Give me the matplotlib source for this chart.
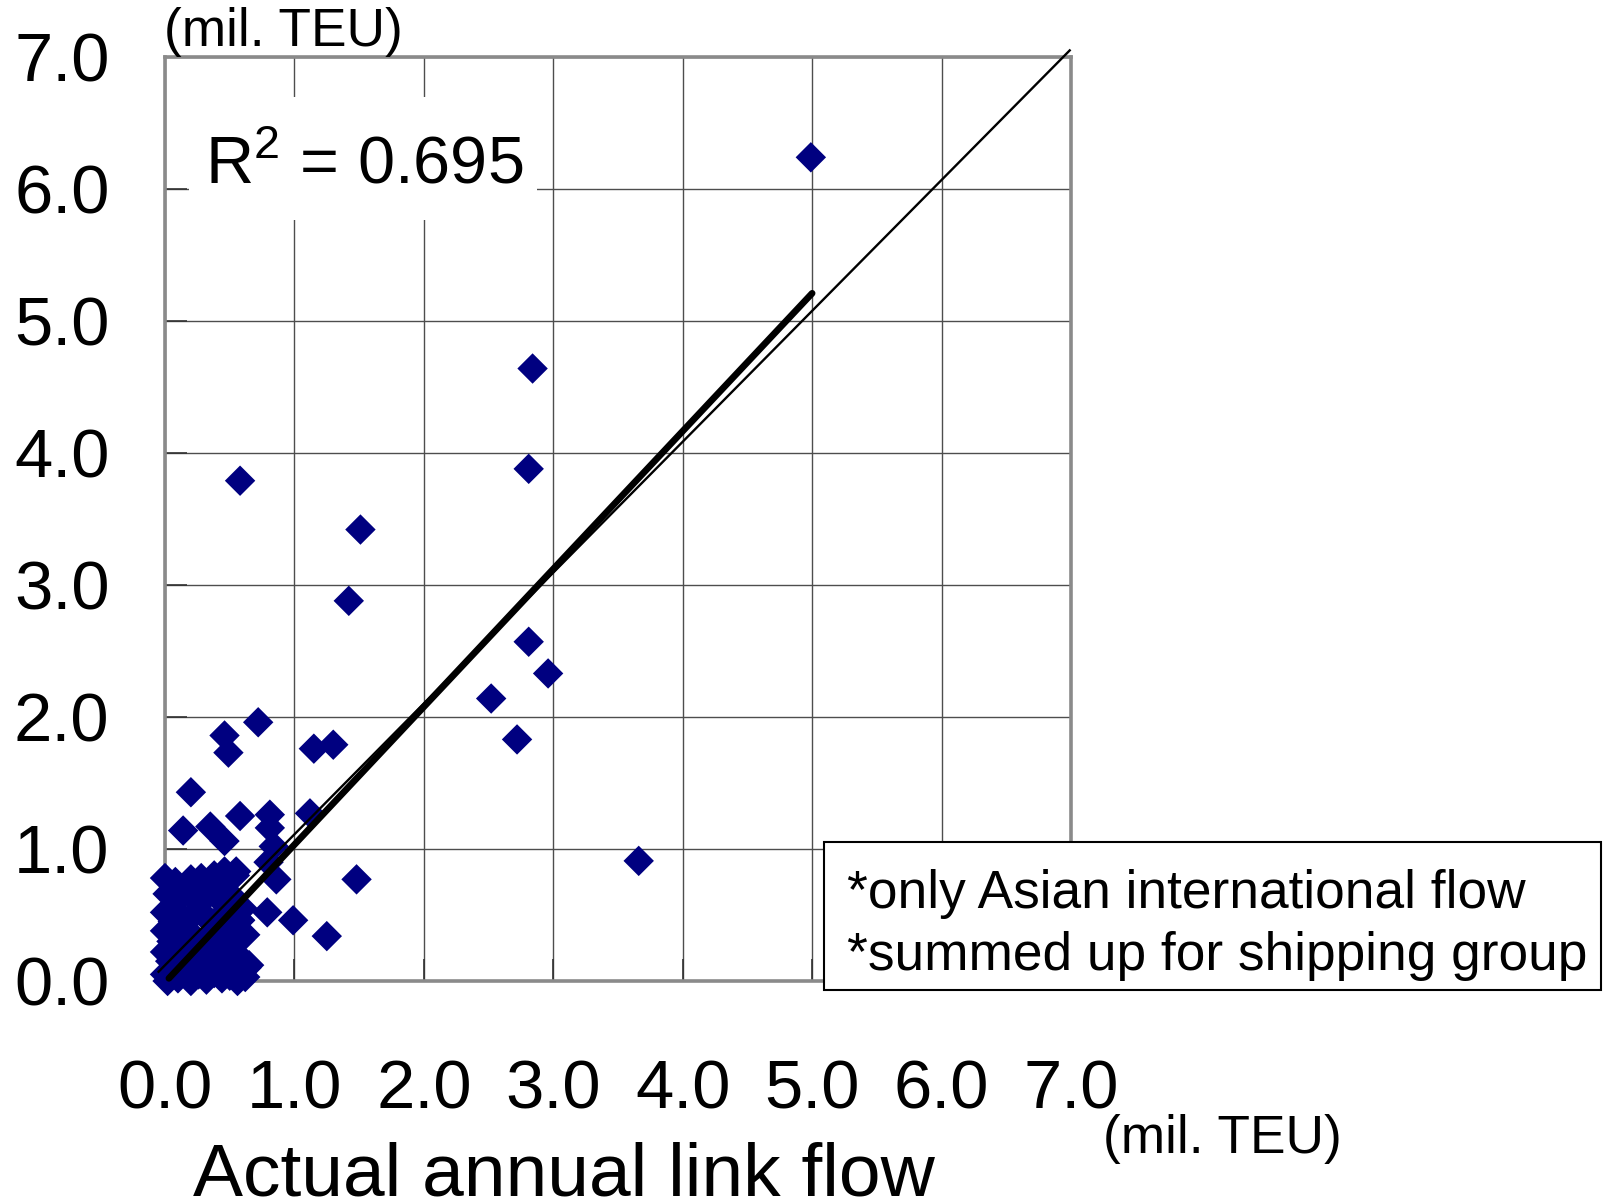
import matplotlib
matplotlib.use("Agg")
import matplotlib.pyplot as plt
from matplotlib.patches import Rectangle

plt.rcParams['font.family'] = ['Liberation Sans', 'DejaVu Sans']
plt.rcParams['mathtext.fontset'] = 'custom'
plt.rcParams['mathtext.rm'] = 'Liberation Sans'
plt.rcParams['mathtext.it'] = 'Liberation Sans'

# ---- data (mil. TEU) ----
actual_x = [4.99, 2.84, 2.81, 0.58, 1.51, 1.42, 2.81, 2.96, 2.52, 2.72, 3.66,
            0.72, 0.46, 0.49, 1.15, 1.30, 0.20, 0.58, 0.81, 1.12, 0.14, 0.35,
            0.46, 0.81, 0.84, 1.48, 0.99, 1.25, 0.79, 0.86, 0.55, 0.46, 0.80,
            0.58, 0.63,
            # dense cluster near origin
            0.00, 0.08, 0.20, 0.28, 0.38, 0.45, 0.54,
            0.02, 0.10, 0.18, 0.25, 0.33, 0.42, 0.50, 0.60,
            0.00, 0.06, 0.12, 0.20, 0.28, 0.36, 0.44, 0.52, 0.58,
            0.00, 0.05, 0.10, 0.16, 0.22, 0.30, 0.38, 0.46, 0.55, 0.62,
            0.00, 0.04, 0.09, 0.15, 0.20, 0.27, 0.35, 0.42, 0.50, 0.58, 0.65,
            0.00, 0.02, 0.06, 0.10, 0.14, 0.20, 0.26, 0.32, 0.38, 0.44, 0.50,
            0.56, 0.62]
estimated_y = [6.24, 4.64, 3.88, 3.79, 3.42, 2.88, 2.57, 2.33, 2.14, 1.83, 0.91,
               1.96, 1.86, 1.73, 1.76, 1.79, 1.43, 1.25, 1.26, 1.27, 1.14, 1.17,
               1.06, 1.16, 1.02, 0.77, 0.46, 0.34, 0.52, 0.77, 0.83, 0.83, 0.90,
               0.46, 0.10,
               0.78, 0.75, 0.77, 0.78, 0.80, 0.74, 0.80,
               0.66, 0.62, 0.68, 0.60, 0.65, 0.62, 0.66, 0.55,
               0.52, 0.45, 0.50, 0.48, 0.52, 0.44, 0.50, 0.42, 0.46,
               0.38, 0.30, 0.36, 0.28, 0.34, 0.30, 0.36, 0.28, 0.32, 0.35,
               0.22, 0.15, 0.20, 0.18, 0.12, 0.20, 0.15, 0.20, 0.14, 0.18, 0.12,
               0.05, 0.00, 0.08, 0.02, 0.06, 0.00, 0.05, 0.01, 0.06, 0.02, 0.04,
               0.00, 0.03]

diag_x = [-0.05, 6.99]
diag_y = [0.07, 7.05]
fit_x = [0.03, 5.00]
fit_y = [0.02, 5.21]

ticks = [0, 1, 2, 3, 4, 5, 6, 7]
tick_labels = ['0.0', '1.0', '2.0', '3.0', '4.0', '5.0', '6.0', '7.0']
r2_text = r'R$^{2}$ = 0.695'
unit_text = '(mil. TEU)'
xlabel_text = 'Actual annual link flow'
note_lines = ['*only Asian international flow', '*summed up for shipping group']

W, H = 1604, 1201
fig = plt.figure(figsize=(W / 100, H / 100), dpi=100)
ax = fig.add_axes([165 / W, (H - 981) / H, 906 / W, 924 / H])

ax.set_xlim(0, 7)
ax.set_ylim(0, 7)
ax.set_xticks(ticks)
ax.set_yticks(ticks)
ax.set_xticklabels(tick_labels)
ax.set_yticklabels(tick_labels)
ax.tick_params(axis='both', direction='in', length=16, width=1.2, color='#333333',
               labelsize=49.5)
ax.tick_params(axis='x', pad=56)
ax.tick_params(axis='y', pad=40)
ax.grid(True, color='#4d4d4d', linewidth=1.0)
ax.set_axisbelow(True)
for s in ax.spines.values():
    s.set_color('#8a8a8a')
    s.set_linewidth(2.6)

ax.scatter(actual_x, estimated_y, marker='D', s=240, color='#000080',
           edgecolors='none', zorder=3, clip_on=False)
ax.plot(diag_x, diag_y, color='black', linewidth=1.7, zorder=4, clip_on=False)
ax.plot(fit_x, fit_y, color='black', linewidth=4.8, solid_capstyle='round',
        zorder=5, clip_on=False)

def fx(px):
    return px / W

def fy(py):
    return 1 - py / H

# white background behind R^2
fig.patches.append(Rectangle((fx(189), fy(220)), fx(537) - fx(189), fy(97) - fy(220),
                             transform=fig.transFigure, facecolor='white',
                             edgecolor='none', zorder=1))
fig.text(fx(205), fy(184), r2_text, fontsize=48, ha='left', va='baseline', zorder=3)

# units
fig.text(fx(164), fy(46), unit_text, fontsize=38.3, ha='left', va='baseline')
fig.text(fx(1103), fy(1153), unit_text, fontsize=38.3, ha='left', va='baseline')

# x label
fig.text(fx(564), fy(1195), xlabel_text, fontsize=54, ha='center', va='baseline')

# note box
fig.patches.append(Rectangle((fx(824), fy(990)), fx(1601) - fx(824), fy(842) - fy(990),
                             transform=fig.transFigure, facecolor='white',
                             edgecolor='black', linewidth=1.5, zorder=2))
fig.text(fx(847), fy(908), note_lines[0], fontsize=38.3, ha='left', va='baseline', zorder=3)
fig.text(fx(847), fy(970), note_lines[1], fontsize=38.3, ha='left', va='baseline', zorder=3)

fig.savefig('out.png', dpi=100)
